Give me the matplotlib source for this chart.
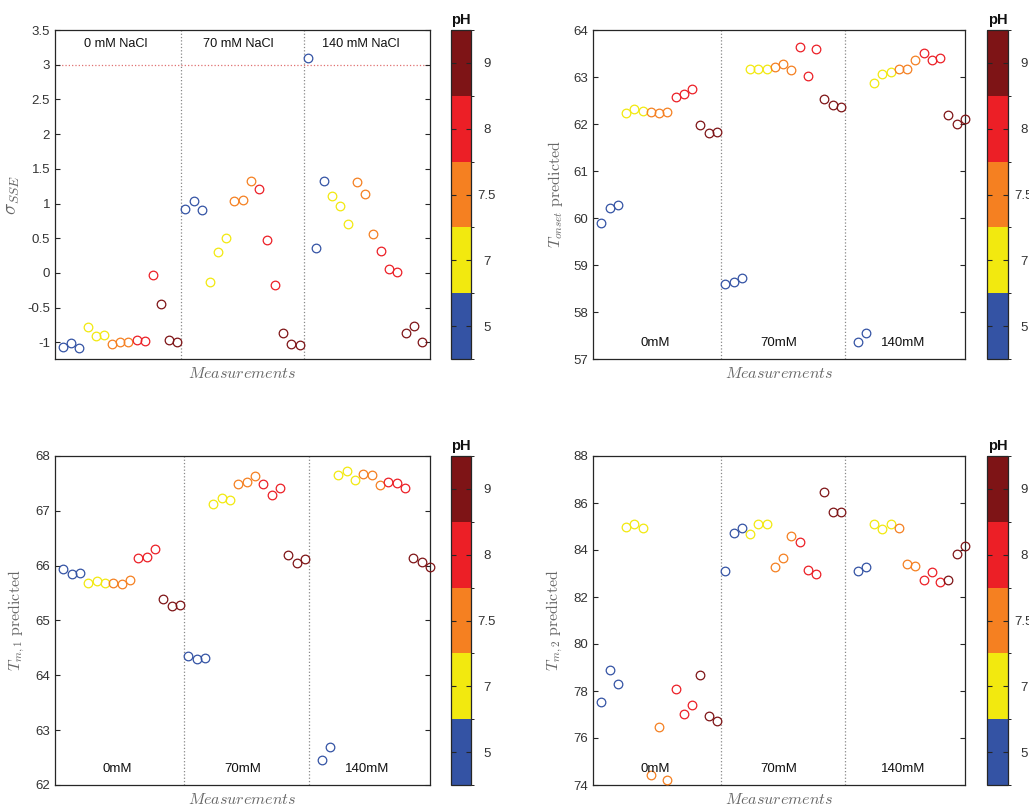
import numpy as np
import matplotlib
matplotlib.use('Agg')
import matplotlib.pyplot as plt
from matplotlib.colors import ListedColormap, BoundaryNorm
from matplotlib.cm import ScalarMappable

plt.rcParams['font.family'] = ['Liberation Sans', 'DejaVu Sans']
plt.rcParams['mathtext.fontset'] = 'cm'

# pH of every measurement (3 salt levels x 5 pH x 3 replicates)
ph_levels = ['5', '7', '7.5', '8', '9']
ph_colors = ['#3453A4', '#F2E90F', '#F58021', '#EC1F26', '#7E1416']
ph_idx = np.tile(np.repeat(np.arange(5), 3), 3)
meas = np.arange(1, 46)

salt_top = ['0 mM NaCl', '70 mM NaCl', '140 mM NaCl']
salt_bottom = ['0mM', '70mM', '140mM']

sigma_sse = [-1.07, -1.01, -1.08, -0.78, -0.91, -0.89, -1.03, -1.0, -1.0,
             -0.96, -0.98, -0.03, -0.45, -0.97, -1.0,
             0.92, 1.03, 0.90, -0.13, 0.30, 0.50, 1.03, 1.05, 1.32,
             1.21, 0.48, -0.18, -0.86, -1.03, -1.04,
             3.10, 0.36, 1.32, 1.11, 0.97, 0.71, 1.31, 1.14, 0.56,
             0.31, 0.06, 0.02, -0.86, -0.76, -1.0]

t_onset = [59.90, 60.21, 60.27, 62.23, 62.32, 62.27, 62.25, 62.23, 62.25,
           62.58, 62.63, 62.74, 61.97, 61.81, 61.83,
           58.59, 58.63, 58.72, 63.17, 63.16, 63.18, 63.21, 63.28, 63.14,
           63.63, 63.03, 63.60, 62.54, 62.40, 62.36,
           np.nan, 57.36, 57.55, 62.88, 63.07, 63.10, 63.17, 63.17, 63.37,
           63.52, 63.37, 63.40, 62.20, 62.01, 62.10]

t_m1 = [65.94, 65.85, 65.86, 65.69, 65.72, 65.69, 65.69, 65.67, 65.73,
        66.14, 66.15, 66.31, 65.40, 65.27, 65.29,
        64.35, 64.30, 64.32, 67.13, 67.24, 67.20, 67.49, 67.53, 67.63,
        67.49, 67.28, 67.41, 66.20, 66.05, 66.12,
        np.nan, 62.46, 62.70, 67.65, 67.73, 67.56, 67.68, 67.65, 67.48,
        67.53, 67.51, 67.42, 66.14, 66.06, 65.98]

t_m2 = [77.55, 78.88, 78.30, 84.99, 85.09, 84.92, 74.41, 76.47, 74.21,
        78.10, 77.04, 77.39, 78.70, 76.95, 76.73,
        83.12, 84.71, 84.92, 84.66, 85.10, 85.10, 83.26, 83.64, 84.59,
        84.35, 83.17, 82.99, 86.48, 85.63, 85.63,
        np.nan, 83.12, 83.26, 85.09, 84.88, 85.10, 84.93, 83.40, 83.33,
        82.73, 83.07, 82.65, 82.73, 83.84, 84.19]

W, H = 1029, 807
fig = plt.figure(figsize=(W / 100, H / 100), dpi=100)

def box(x0, y0, x1, y1):
    return [x0 / W, 1 - y1 / H, (x1 - x0) / W, (y1 - y0) / H]

panels = [
    (sigma_sse, (-1.24, 3.5), np.arange(-1, 3.51, 0.5), r'$\sigma_{SSE}$', 46,
     box(55, 30, 430, 359), box(451, 30, 471, 359), 'top'),
    (t_onset, (57, 64), np.arange(57, 65, 1), r'$T_{onset}\ \mathrm{predicted}$', 45,
     box(593, 30, 965, 359), box(987, 30, 1008, 359), 'bottom'),
    (t_m1, (62, 68), np.arange(62, 69, 1), r'$T_{m,1}\ \mathrm{predicted}$', 45,
     box(55, 456, 430, 785), box(451, 456, 471, 785), 'bottom'),
    (t_m2, (74, 88), np.arange(74, 89, 2), r'$T_{m,2}\ \mathrm{predicted}$', 45,
     box(593, 456, 965, 785), box(987, 456, 1008, 785), 'bottom'),
]

cmap = ListedColormap(ph_colors)
norm = BoundaryNorm(np.arange(6), 5)
gray = '#666666'

for vals, ylim, yt, ylab, xmax, apos, cpos, where in panels:
    ax = fig.add_axes(apos)
    vals = np.array(vals)
    for k in range(5):
        m = ph_idx == k
        ax.plot(meas[m], vals[m], 'o', ms=6.2, mfc='none', mec=ph_colors[k],
                mew=0.9, clip_on=False, zorder=3)
    ax.set_xlim(0, xmax)
    ax.set_ylim(*ylim)
    ax.set_yticks(yt)
    ax.set_yticklabels(['%g' % v for v in yt])
    ax.set_xticks([])
    ax.tick_params(axis='y', direction='in', left=True, right=True, length=3.5,
                   width=0.8, labelsize=9.5, colors='#262626', labelcolor='#333333')
    for s in ax.spines.values():
        s.set_color('#262626')
        s.set_linewidth(0.9)
    for xv in [15.5, 30.5]:
        ax.axvline(xv, color='#888888', ls=':', lw=0.9, zorder=1)
    if where == 'top':
        ax.axhline(3, color='#E07070', ls=':', lw=0.9, zorder=1)
        for c, lab in zip([7.5, 22.5, 37.5], salt_top):
            ax.text(c, 3.30, lab, ha='center', va='center', fontsize=9.2, color='#111111')
        ax.set_ylabel(ylab, fontsize=14, color=gray, labelpad=4)
    else:
        y_txt = ylim[0] + 0.049 * (ylim[1] - ylim[0])
        for c, lab in zip([7.5, 22.5, 37.5], salt_bottom):
            ax.text(c, y_txt, lab, ha='center', va='center', fontsize=9.5, color='#111111')
        ax.set_ylabel(ylab, fontsize=11.5, color=gray, labelpad=6)
    ax.set_xlabel(r'$Measurements$', fontsize=11.5, color=gray, labelpad=5)

    cax = fig.add_axes(cpos)
    sm = ScalarMappable(norm=norm, cmap=cmap)
    cb = fig.colorbar(sm, cax=cax)
    cb.set_ticks(np.arange(5) + 0.5, labels=ph_levels, ha='center')
    cb.outline.set_edgecolor('#262626')
    cb.outline.set_linewidth(0.9)
    cax.tick_params(direction='in', left=True, right=True, length=3.5, width=0.8,
                    labelsize=9.5, colors='#262626', labelcolor='#333333', pad=11.5)
    cax.set_title('pH', fontsize=10.5, fontweight='bold', pad=4, color='#111111')

fig.savefig('out.png', dpi=100)
